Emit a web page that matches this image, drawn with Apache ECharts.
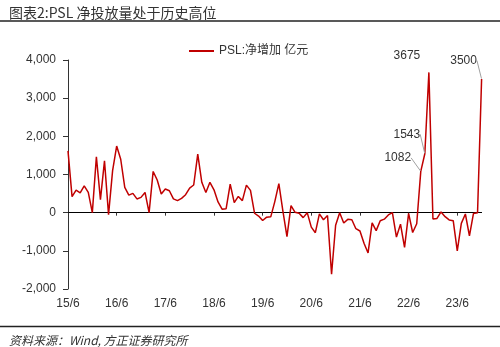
<!DOCTYPE html>
<html>
<head>
<meta charset="utf-8">
<script src="https://cdn.jsdelivr.net/npm/echarts@6/dist/echarts.min.js"></script>
<style>html,body{margin:0;padding:0;background:#fff;}#c{width:500px;height:347px;}</style>
</head>
<body>
<div id="c"></div>
<script>
// Monthly categories 2015-06 .. 2023-12
var startYear = 15, startMonth = 6, endYear = 23, endMonth = 12;
var categories = [];
for (var y = startYear; y <= endYear; y++) {
  for (var m = 1; m <= 12; m++) {
    if (y === startYear && m < startMonth) continue;
    if (y === endYear && m > endMonth) continue;
    categories.push(y + '/' + m);
  }
}
// PSL net increase (100 million yuan)
var pslValues = [
  1620, 420, 590, 520, 700, 530, 0, 1465, 340, 1360, -50, 1100,
  1745, 1400, 660, 460, 505, 360, 400, 530, 0, 1080, 855, 490,
  620, 575, 360, 315, 375, 470, 645, 725, 1535, 795, 530, 795,
  600, 280, 90, 105, 750, 265, 425, 315, 722, 585, -15, -90,
  -205, -118, -110, 290, 760, 40, -630, 185, 10, -15, -130, 0,
  -380, -525, -30, -185, -75, -1615, -330, 0, -270, -175, -185, -420,
  -480, -800, -1055, -270, -470, -210, -170, -60, 0, -640, -300, -910,
  -20, -520, -290, 1082, 1543, 3675, -165, -150, 20, -105, -190, -210,
  -1000, -280, -35, -610, -20, 0, 3500
];
var yTicks = [-2000, -1000, 0, 1000, 2000, 3000, 4000];
// index: [label dx, label dy, show leader line]
var annotated = {87: [-23, -7, true], 88: [-18, -13, true], 89: [-22, -10, false], 102: [-18, -12, true]};

var seriesData = pslValues.map(function (v, i) {
  if (annotated[i]) {
    return {
      value: v,
      symbol: 'circle',
      symbolSize: 1,
      itemStyle: {color: 'rgba(0,0,0,0)', borderWidth: 0},
      label: {show: true, position: 'top', distance: 0, formatter: String(v), color: '#333'},
      labelLine: {show: annotated[i][2], lineStyle: {color: '#a0a0a0', width: 1}}
    };
  }
  return {value: v, symbol: 'none'};
});

function fmt(v) {
  var s = String(Math.abs(v));
  s = s.replace(/\B(?=(\d{3})+(?!\d))/g, ',');
  return (v < 0 ? '-' : '') + s;
}
function isJune(idx, val) { return /\/6$/.test(val); }

var chart = echarts.init(document.getElementById('c'));
var fontFam = '"Liberation Sans", "Noto Sans CJK SC", sans-serif';
chart.setOption({
  animation: false,
  textStyle: {fontFamily: fontFam},
  title: [
    {text: '图表2:PSL 净投放量处于历史高位', left: 4, top: 1,
     textStyle: {fontSize: 14, fontWeight: 'normal', color: '#333', fontFamily: '"Noto Sans CJK SC", sans-serif'}},
    {text: '资料来源：Wind, 方正证券研究所', left: 4, top: 329,
     textStyle: {fontSize: 12, fontWeight: 'normal', fontStyle: 'italic', color: '#333', fontFamily: '"Noto Sans CJK SC", sans-serif'}}
  ],
  graphic: [
    {type: 'line', shape: {x1: 0, y1: 21, x2: 500, y2: 21}, style: {stroke: '#222', lineWidth: 1.3}},
    {type: 'line', shape: {x1: 0, y1: 326.5, x2: 500, y2: 326.5}, style: {stroke: '#222', lineWidth: 1.3}}
  ],
  legend: {
    left: 184, top: 40, itemWidth: 25, itemHeight: 2, itemGap: 4,
    textStyle: {fontSize: 12, color: '#333', fontFamily: fontFam},
    data: [{name: 'PSL:净增加 亿元', icon: 'rect', itemStyle: {color: '#C00000'}}]
  },
  grid: {left: 68, right: 18.4, top: 60, bottom: 58, containLabel: false},
  xAxis: [
    {type: 'category', data: categories, boundaryGap: false, position: 'bottom',
     axisLine: {show: false, onZero: false}, axisTick: {show: false},
     axisLabel: {interval: isJune, margin: 9, fontSize: 12, color: '#333'}},
    {type: 'category', data: categories, boundaryGap: false, position: 'top',
     axisLine: {show: true, onZero: true, lineStyle: {color: '#000', width: 1}},
     axisTick: {show: true, inside: true, interval: isJune, length: 3, lineStyle: {color: '#333'}},
     axisLabel: {show: false}}
  ],
  yAxis: {
    type: 'value', min: -2000, max: 4000, interval: 1000,
    axisLine: {show: true, lineStyle: {color: '#333', width: 1}},
    axisTick: {show: true, length: 5, lineStyle: {color: '#333'}},
    splitLine: {show: false},
    axisLabel: {fontSize: 12, color: '#333', margin: 12, formatter: fmt}
  },
  series: [{
    name: 'PSL:净增加 亿元',
    type: 'line',
    xAxisIndex: 0,
    data: seriesData,
    symbol: 'none',
    showSymbol: true,
    showAllSymbol: true,
    lineStyle: {color: '#C00000', width: 1.5},
    itemStyle: {color: '#C00000'},
    label: {fontSize: 12, color: '#333', fontFamily: fontFam},
    labelLayout: function (p) {
      var a = annotated[p.dataIndex];
      if (!a) return {};
      return {dx: a[0], dy: a[1]};
    }
  }]
});
</script>
</body>
</html>
